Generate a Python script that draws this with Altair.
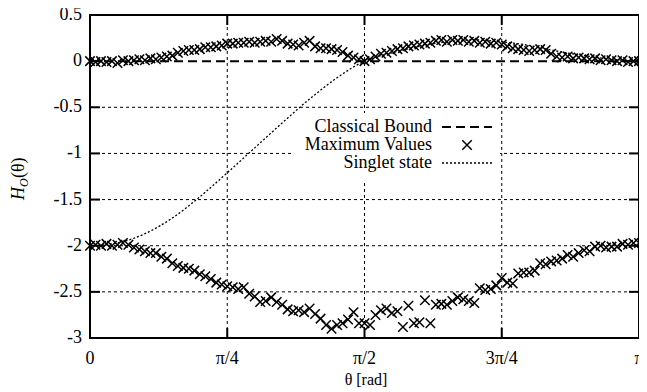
import altair as alt
import pandas as pd

# ---------------- data ----------------
# theta is expressed in units of pi (0 .. 1)
theta_step = 0.01
upper_values = [
    0.00, -0.01, 0.00, -0.01, 0.00, -0.02, 0.01, 0.00, 0.01,
    0.02, 0.01, 0.03, 0.02,
    0.04, 0.05, 0.06,
    0.09, 0.11, 0.12, 0.12, 0.13, 0.15, 0.15, 0.16, 0.17,
    0.19, 0.19, 0.20, 0.20, 0.21, 0.20, 0.21, 0.22, 0.21, 0.24, 0.22,
    0.19, 0.18, 0.17, 0.20, 0.22, 0.16,
    0.14, 0.14, 0.13, 0.12, 0.10,
    0.06, 0.04, 0.02, 0.00,
    0.02, 0.05, 0.08, 0.09, 0.11, 0.13, 0.14, 0.16, 0.17, 0.18,
    0.19, 0.20, 0.22, 0.23, 0.21, 0.23, 0.22, 0.23, 0.21, 0.22,
    0.20, 0.21, 0.19, 0.20, 0.18, 0.16, 0.14, 0.13, 0.12, 0.11,
    0.12, 0.13, 0.12, 0.08, 0.05, 0.04, 0.05, 0.03, 0.04, 0.03,
    0.02, 0.03, 0.01, 0.02, 0.01, 0.00, 0.01, -0.01, 0.00, 0.00,
]
lower_values = [
    -2.00, -1.99, -2.00, -1.98, -2.00, -1.99, -1.97, -1.99, -2.02, -2.04,
    -2.06, -2.08, -2.08, -2.12, -2.14, -2.19, -2.22, -2.24, -2.25, -2.27,
    -2.31, -2.33, -2.36, -2.40, -2.42, -2.44, -2.45, -2.47, -2.45, -2.52,
    -2.55, -2.61, -2.60, -2.56, -2.61, -2.64, -2.69, -2.71, -2.70, -2.72,
    -2.68, -2.74, -2.79, -2.86, -2.90, -2.86, -2.84, -2.80, -2.72, -2.84,
    -2.84, -2.86, -2.75, -2.70, -2.68, -2.73, -2.71, -2.88, -2.65, -2.84,
    -2.83, -2.59, -2.84, -2.64, -2.63, -2.64, -2.60, -2.56, -2.58, -2.60,
    -2.62, -2.46, -2.48, -2.47, -2.43, -2.35, -2.40, -2.41, -2.30, -2.29,
    -2.29, -2.27, -2.19, -2.20, -2.17, -2.16, -2.14, -2.10, -2.12, -2.08,
    -2.05, -2.06, -2.01, -2.00, -2.02, -2.01, -2.01, -1.98, -1.99, -1.97, -1.97,
]
singlet_theta = [0.0, 0.05, 0.10, 0.15, 0.20, 0.25, 0.30, 0.35, 0.40, 0.45, 0.50,
                 0.55, 0.60, 0.65, 0.70, 0.75, 0.80, 0.85, 0.90, 0.95, 1.0]
singlet_values = [-2.00, -1.97, -1.87, -1.70, -1.47, -1.21, -0.94, -0.67, -0.41, -0.18, 0.00,
                  0.09, 0.16, 0.21, 0.23, 0.21, 0.17, 0.11, 0.06, 0.02, 0.00]
classical_bound = 0.0

x_tick_values = [0, 0.25, 0.5, 0.75, 1.0]
x_tick_labels = ["0", "π/4", "π/2", "3π/4", "π"]
y_tick_values = [0.5, 0, -0.5, -1, -1.5, -2, -2.5, -3]
y_tick_labels = ["0.5", "0", "-0.5", "-1", "-1.5", "-2", "-2.5", "-3"]
y_grid_values = [-0.5, -1, -1.5, -2, -2.5]
x_grid_values = [0.25, 0.5, 0.75]
legend_labels = ["Classical Bound", "Maximum Values", "Singlet state"]

# ---------------- tables ----------------
theta = [round(i * theta_step, 4) for i in range(len(upper_values))]
pts = pd.DataFrame({"theta": theta + theta, "H": upper_values + lower_values})
singlet = pd.DataFrame({"theta": singlet_theta, "H": singlet_values})
ygrid = pd.DataFrame({"H": y_grid_values})
xgrid = pd.DataFrame({"theta": x_grid_values})
yt = pd.DataFrame({"H": y_tick_values[1:-1]})
xt = pd.DataFrame({"theta": x_tick_values[1:-1]})
xlab = pd.DataFrame({"theta": x_tick_values, "lab": x_tick_labels})
ylab = pd.DataFrame({"H": y_tick_values, "lab": y_tick_labels})

W, H = 549, 323
FONT = "Liberation Serif"
xscale = alt.Scale(domain=[0, 1], nice=False, zero=False)
yscale = alt.Scale(domain=[-3, 0.5], nice=False, zero=False)
X = lambda f="theta": alt.X(f"{f}:Q", scale=xscale, axis=None)
Y = lambda f="H": alt.Y(f"{f}:Q", scale=yscale, axis=None)

grid_style = dict(color="black", strokeWidth=1, strokeDash=[3, 3])
hgrid = alt.Chart(ygrid).mark_rule(**grid_style).encode(y=Y(), x=alt.value(0), x2=alt.value(W))
vgrid = alt.Chart(xgrid).mark_rule(**grid_style).encode(x=X(), y=alt.value(0), y2=alt.value(H))

# key box (opaque, hides grid under the key)
keybox = alt.Chart(pd.DataFrame({"k": [0]})).mark_rect(fill="white").encode(
    x=alt.value(202), x2=alt.value(410), y=alt.value(98), y2=alt.value(166)
)

tick_style = dict(color="black", strokeWidth=2)
tick_left = alt.Chart(yt).mark_rule(**tick_style).encode(y=Y(), x=alt.value(0), x2=alt.value(10))
tick_right = alt.Chart(yt).mark_rule(**tick_style).encode(y=Y(), x=alt.value(W - 10), x2=alt.value(W))
tick_bottom = alt.Chart(xt).mark_rule(**tick_style).encode(x=X(), y=alt.value(H - 10), y2=alt.value(H))
tick_top = alt.Chart(xt).mark_rule(**tick_style).encode(x=X(), y=alt.value(0), y2=alt.value(10))

xlabels = alt.Chart(xlab).mark_text(
    font=FONT, fontSize=18, align="center", baseline="middle", color="black"
).encode(x=X(), y=alt.value(H + 21), text="lab:N")
ylabels = alt.Chart(ylab).mark_text(
    font=FONT, fontSize=18, align="right", baseline="middle", color="black"
).encode(y=Y(), x=alt.value(-8), text="lab:N")

bound = alt.Chart(pd.DataFrame({"H": [classical_bound]})).mark_rule(
    color="black", strokeWidth=2, strokeDash=[9, 5]
).encode(y=Y(), x=alt.value(0), x2=alt.value(W))

singlet_line = alt.Chart(singlet).mark_line(
    color="black", strokeWidth=1.3, strokeDash=[2, 2], interpolate="monotone"
).encode(x=X(), y=Y())

XSHAPE = "M-1,-1L1,1M-1,1L1,-1"
points = alt.Chart(pts).mark_point(
    shape=XSHAPE, filled=False, color="black", strokeWidth=1.5, size=90, opacity=1
).encode(x=X(), y=Y())

# ---------------- key ----------------
def txt(s, x, y, size=18, style="normal", angle=0, align="center", baseline="alphabetic"):
    return alt.Chart(pd.DataFrame({"t": [s]})).mark_text(
        font=FONT, fontSize=size, fontStyle=style, angle=angle, align=align,
        baseline=baseline, color="black"
    ).encode(text="t:N", x=alt.value(x), y=alt.value(y))

key_rows_y = [112, 130, 148]
key_texts = [txt(l, 342, yy, 18, "normal", 0, "right", "middle")
             for l, yy in zip(legend_labels, key_rows_y)]
key_dash = alt.Chart(pd.DataFrame({"k": [0]})).mark_rule(
    color="black", strokeWidth=2, strokeDash=[9, 5]
).encode(x=alt.value(352), x2=alt.value(402), y=alt.value(key_rows_y[0]))
key_x = alt.Chart(pd.DataFrame({"k": [0]})).mark_point(
    shape=XSHAPE, filled=False, color="black", strokeWidth=1.5, size=90, opacity=1
).encode(x=alt.value(377), y=alt.value(key_rows_y[1]))
key_dot = alt.Chart(pd.DataFrame({"k": [0]})).mark_rule(
    color="black", strokeWidth=1.3, strokeDash=[2, 2]
).encode(x=alt.value(352), x2=alt.value(402), y=alt.value(key_rows_y[2]))

# ---------------- axis titles ----------------
ytitle_H = txt("H", -66, 185, 18, "italic", 270, "left")
ytitle_O = txt("O", -62, 172, 12, "italic", 270, "left")
ytitle_rest = txt("(θ)", -66, 163, 18, "normal", 270, "left")
xtitle = txt("θ [rad]", 276, 370, 16)

chart = alt.layer(
    hgrid, vgrid, keybox, bound, singlet_line, points,
    tick_left, tick_right, tick_bottom, tick_top, xlabels, ylabels,
    *key_texts, key_dash, key_x, key_dot,
    ytitle_H, ytitle_O, ytitle_rest, xtitle,
).properties(
    width=W, height=H,
    padding={"left": 82, "top": 7, "right": 0, "bottom": 50},
    autosize=alt.AutoSizeParams(type="none"),
).configure_view(stroke="black", strokeWidth=2)

chart.save("out.html", embed_options={"renderer": "svg", "actions": False})
